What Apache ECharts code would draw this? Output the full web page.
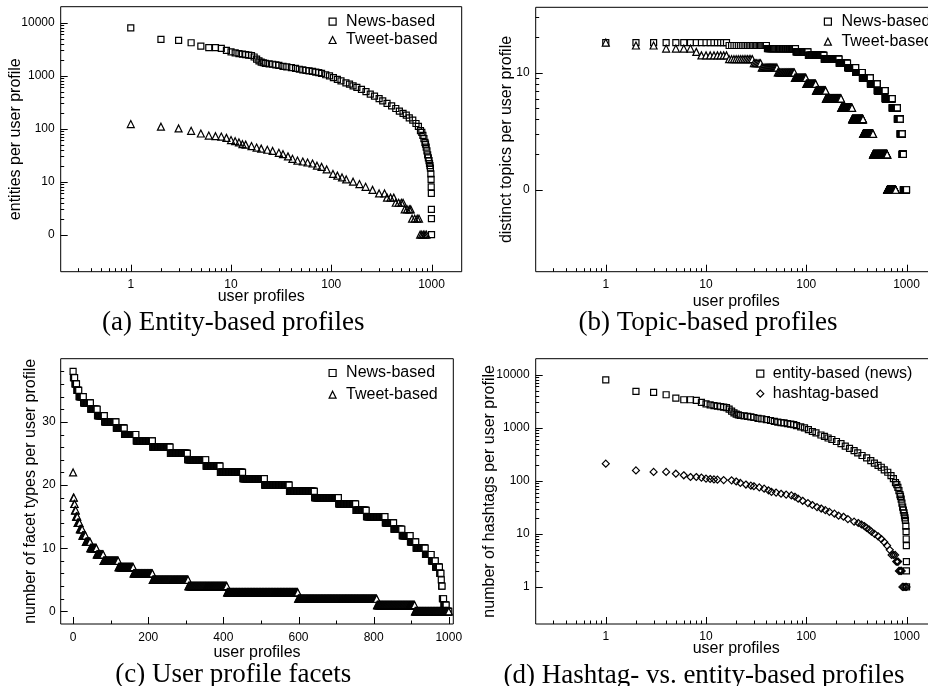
<!DOCTYPE html>
<html>
<head>
<meta charset="utf-8">
<title>User profile rank plots</title>
<script src="https://cdn.jsdelivr.net/npm/echarts@6/dist/echarts.min.js"></script>
<style>
  html, body { margin: 0; padding: 0; background: #fff; }
  #chart { width: 928px; height: 686px; }
</style>
</head>
<body>
<div id="chart"></div>
<script>
// (a) + (d): entities per user profile, [rank, count]
var entityNews = [[1,8000],[2,4830],[3,4630],[4,4180],[5,3620],[6,3370],[7,3370],[8,3270],[9,3000],[10,2820],
  [11,2700],[12,2600],[13,2550],[14,2500],[15,2450],[16,2400],[17,2250],[18,2050],[19,1900],[20,1800],
  [21,1750],[22,1700],[24,1670],[26,1640],[28,1600],[30,1560],[33,1500],[36,1470],[40,1420],[44,1370],
  [48,1320],[52,1280],[56,1250],[60,1230],[65,1200],[70,1170],[75,1140],[80,1100],[88,1040],[96,990],
  [105,920],[115,850],[125,800],[140,730],[152,690],[165,640],[180,600],[200,550],[222,500],[245,450],
  [270,410],[300,370],[326,335],[360,300],[400,270],[440,240],[478,215],[520,195],[560,180],[600,160],
  [650,145],[700,125],[740,110],[776,92],[800,85],[820,75],[840,65],[860,55],[871,51],[885,45],
  [900,38],[915,32],[930,28],[945,25],[955,22],[965,20],[975,18],[985,14],[990,11],[993,8],
  [996,6],[997,3],[998,2],[1000,1]];
var entityTweet = [[1,122],[2,109],[3,101],[4,91],[5,81],[6,74],[7,72],[8,71],[9,67],[10,61],
  [11,58],[12,55],[13,51],[14,50],[16,47],[18,44],[20,42],[23,40],[26,38],[30,35],
  [33,33],[37,30],[41,27],[46,25],[52,24],[58,23],[65,22],[72,20],[80,19],[90,17],
  [104,14],[115,13],[128,12],[141,11],[165,10],[191,9],[220,8],[258,7],[300,6],[340,6],
  [360,5],[390,5],[420,5],[440,4],[470,4],[500,4],[520,4],[540,3],[570,3],[600,3],
  [620,3],[640,2],[680,2],[720,2],[750,2],[770,1],[800,1],[830,1],[860,1],[890,1]];
var hashtagCounts = [[1,210],[2,157],[3,147],[4,147],[5,136],[6,127],[7,118],[8,118],[9,115],[10,110],
  [11,108],[12,106],[13,105],[15,103],[18,102],[20,97],[22,91],[25,85],[28,81],[30,79],
  [34,75],[38,71],[42,66],[45,62],[50,60],[56,57],[63,55],[71,53],[77,50],[83,46],
  [92,42],[104,38],[115,35],[128,32],[141,30],[155,28],[170,26],[191,24],[210,22],[235,21],
  [260,19],[300,17],[330,16],[355,15],[380,14],[400,13],[425,12],[447,11],[480,10],[520,9],
  [560,8],[600,7],[640,6],[680,5],[710,4],[740,4],[770,4],[790,3],[810,3],[825,3],
  [840,2],[860,2],[880,2],[895,2],[910,1],[940,1],[970,1],[1000,1]];

// (b): distinct topics, value levels and the last rank holding each level
var topicLevels = [18,17,16,15,14,13,12,11,10,9,8,7,6,5,4,3,2,1];
var topicNewsLast = [16,40,78,104,150,212,258,311,362,435,510,612,720,810,865,905,930,1000];
var topicTweetLast = [1,3,7,8,16,29,35,51,76,99,124,156,222,286,368,463,641,780];

// (c): facet types, value levels and the last rank holding each level
var facetNewsLevels = [38,37,36,35,34,33,32,31,30,29,28,27,26,25,24,23,22,21,20,19,18,17,16,15,14,13,12,11,10,9,8,7,6,5,4,2,1,0];
var facetNewsLast = [0,4,9,15,27,46,64,83,114,136,167,211,258,304,353,391,451,509,575,642,706,752,780,830,853,875,897,912,937,953,964,975,979,980,982,986,993,1000];
var facetTweetLevels = [22,18,17,16,15,14,13,12,11,10,9,8,7,6,5,4,3,2,1,0];
var facetTweetLast = [0,2,4,7,11,17,24,33,45,62,80,120,160,211,306,409,598,808,909,1000];

var captions = ['(a) Entity-based profiles', '(b) Topic-based profiles', '(c) User profile facets', '(d) Hashtag- vs. entity-based profiles'];

var sans = 'Liberation Sans';
var serif = 'Liberation Serif';

function expand(levels, lastRanks, firstRank) {
  var out = [], r = firstRank;
  for (var i = 0; i < levels.length; i++) {
    for (; r <= lastRanks[i]; r++) out.push([r, levels[i]]);
  }
  return out;
}

function logLabel(zeroAtOne) {
  return function (v) {
    var e = Math.log10(v), n = Math.round(e);
    if (Math.abs(e - n) > 1e-6 || n < 0) return '';
    if (n === 0 && zeroAtOne) return '0';
    return String(Math.round(v));
  };
}

function linLabel(step, max) {
  return function (v) { return (v % step === 0 && v >= 0 && v < max) ? String(v) : ''; };
}

// tick positions on a log axis: decades (major) and 2..9 multiples (minor)
function logTicks(lo, hi, minor) {
  var out = [];
  for (var e = -1; e < 5; e++) {
    for (var k = 1; k < 10; k++) {
      if ((k === 1) === minor) continue;
      var v = +(k * Math.pow(10, e)).toPrecision(6);
      if (v > lo * 1.0001 && v < hi * 0.9999) out.push(v);
    }
  }
  return out;
}

function tickData(xMajor, xMinor, yMajor, yMinor, xMin, yMin) {
  var d = [];
  xMajor.forEach(function (v) { d.push([v, yMin, 0, 7]); });
  xMinor.forEach(function (v) { d.push([v, yMin, 0, 3.5]); });
  yMajor.forEach(function (v) { d.push([xMin, v, 1, 7]); });
  yMinor.forEach(function (v) { d.push([xMin, v, 1, 3.5]); });
  return d;
}

function drawTick(params, api) {
  var p = api.coord([api.value(0), api.value(1)]);
  var len = api.value(3);
  var x = Math.round(p[0]) + 0.5, y = Math.round(p[1]) + 0.5;
  var shape = api.value(2) === 1
    ? {x1: p[0], y1: y, x2: p[0] + len, y2: y}
    : {x1: x, y1: p[1], x2: x, y2: p[1] - len};
  return {type: 'line', shape: shape, style: {stroke: '#000', lineWidth: 1}};
}

function axis(gridIndex, type, min, max, formatter, name, nameGap, margin) {
  return {
    gridIndex: gridIndex, type: type, min: min, max: max,
    axisLine: {show: false, onZero: false},
    axisTick: {show: false},
    splitLine: {show: false},
    axisLabel: {formatter: formatter, fontFamily: sans, fontSize: 12, color: '#000', margin: margin,
      showMinLabel: false, showMaxLabel: false},
    name: name, nameLocation: 'middle', nameGap: nameGap, nameMoveOverlap: false,
    nameTextStyle: {fontFamily: sans, fontSize: 16, color: '#000'}
  };
}

function scatter(name, data, symbol, size, xi, fill) {
  return {
    type: 'scatter', name: name, data: data, xAxisIndex: xi, yAxisIndex: xi,
    symbol: symbol, symbolSize: size, progressive: 0, large: false,
    itemStyle: {color: fill, borderColor: '#000', borderWidth: 1.2, opacity: 1},
    emphasis: {disabled: true}
  };
}

function ticks(xi, data) {
  return {type: 'custom', xAxisIndex: xi, yAxisIndex: xi, data: data, renderItem: drawTick, silent: true, clip: false, z: 5};
}

function legend(names, left, top, gap, pad) {
  return {
    data: names, orient: 'vertical', left: left, top: top, itemGap: gap, padding: 0,
    itemWidth: 7, itemHeight: 7, selectedMode: false,
    itemStyle: {color: '#fff', borderColor: '#000', borderWidth: 1.2},
    textStyle: {fontFamily: sans, fontSize: 16, color: '#000', padding: [0, 0, 0, pad]}
  };
}

function caption(text, x, y) {
  return {type: 'text', x: x, y: y, style: {text: text, fontFamily: serif, fontSize: 27, fill: '#000', align: 'center', verticalAlign: 'middle'}};
}

var chart = echarts.init(document.getElementById('chart'), null, {renderer: 'canvas'});

var frame = {show: true, borderColor: '#000', borderWidth: 1, backgroundColor: 'transparent', outerBoundsMode: 'none', containLabel: false};
var open = 'rgba(255,255,255,0)';

chart.setOption({
  animation: false,
  backgroundColor: '#fff',
  grid: [
    Object.assign({left: 60.7, top: 6.7, width: 401, height: 265}, frame),
    Object.assign({left: 535.7, top: 7.3, width: 401, height: 264.4}, frame),
    Object.assign({left: 60.7, top: 358.7, width: 392.6, height: 265.3}, frame),
    Object.assign({left: 535.7, top: 358.7, width: 401, height: 265.3}, frame)
  ],
  xAxis: [
    axis(0, 'log', 0.2, 2000, logLabel(false), 'user profiles', 17, 7),
    axis(1, 'log', 0.2, 2000, logLabel(false), 'user profiles', 22, 7),
    axis(2, 'value', -33, 1012, linLabel(200, 1012), 'user profiles', 21, 8),
    axis(3, 'log', 0.2, 2000, logLabel(false), 'user profiles', 17, 7)
  ],
  yAxis: [
    axis(0, 'log', 0.2, 20000, logLabel(true), 'entities per user profile', 37, 6),
    axis(1, 'log', 0.2, 36, logLabel(true), 'distinct topics per user profile', 21, 6),
    axis(2, 'value', -2, 40, linLabel(10, 40), 'number of facet types per user profile', 22, 5),
    axis(3, 'log', 0.2, 20000, logLabel(false), 'number of hashtags per user profile', 38, 6)
  ],
  legend: [
    legend(['News-based', 'Tweet-based'], 328.5, 13.7, 2.3, 5),
    legend(['News-based', 'Tweet-based'], 823.8, 13.7, 4, 5),
    legend(['News-based', 'Tweet-based'], 328.5, 365, 5.7, 5),
    legend(['entity-based (news)', 'hashtag-based'], 756.2, 365.7, 4, 4)
  ],
  graphic: [
    caption(captions[0], 233.3, 323),
    caption(captions[1], 708, 323),
    caption(captions[2], 233.3, 675),
    caption(captions[3], 704, 676)
  ],
  series: [
    scatter('News-based', entityNews, 'rect', 6, 0, open),
    scatter('Tweet-based', entityTweet, 'triangle', 7, 0, open),
    scatter('News-based', expand(topicLevels, topicNewsLast, 1), 'rect', 6, 1, '#fff'),
    scatter('Tweet-based', expand(topicLevels, topicTweetLast, 1), 'triangle', 7, 1, '#fff'),
    scatter('News-based', expand(facetNewsLevels, facetNewsLast, 0), 'rect', 6, 2, '#fff'),
    scatter('Tweet-based', expand(facetTweetLevels, facetTweetLast, 0), 'triangle', 7, 2, '#fff'),
    scatter('entity-based (news)', entityNews, 'rect', 6, 3, open),
    scatter('hashtag-based', hashtagCounts, 'diamond', 7, 3, open),
    ticks(0, tickData(logTicks(0.2, 2000, false), logTicks(0.2, 2000, true), logTicks(0.9, 20000, false), logTicks(1, 20000, true), 0.2, 0.2)),
    ticks(1, tickData(logTicks(0.2, 2000, false), logTicks(0.2, 2000, true), logTicks(0.9, 36, false), logTicks(1, 36, true), 0.2, 0.2)),
    ticks(2, tickData([0, 200, 400, 600, 800, 1000], [100, 300, 500, 700, 900], [0, 10, 20, 30],
      [2,4,6,8,12,14,16,18,22,24,26,28,32,34,36,38], -33, -2)),
    ticks(3, tickData(logTicks(0.2, 2000, false), logTicks(0.2, 2000, true), logTicks(0.9, 20000, false), logTicks(1, 20000, true), 0.2, 0.2))
  ]
});
</script>
</body>
</html>
